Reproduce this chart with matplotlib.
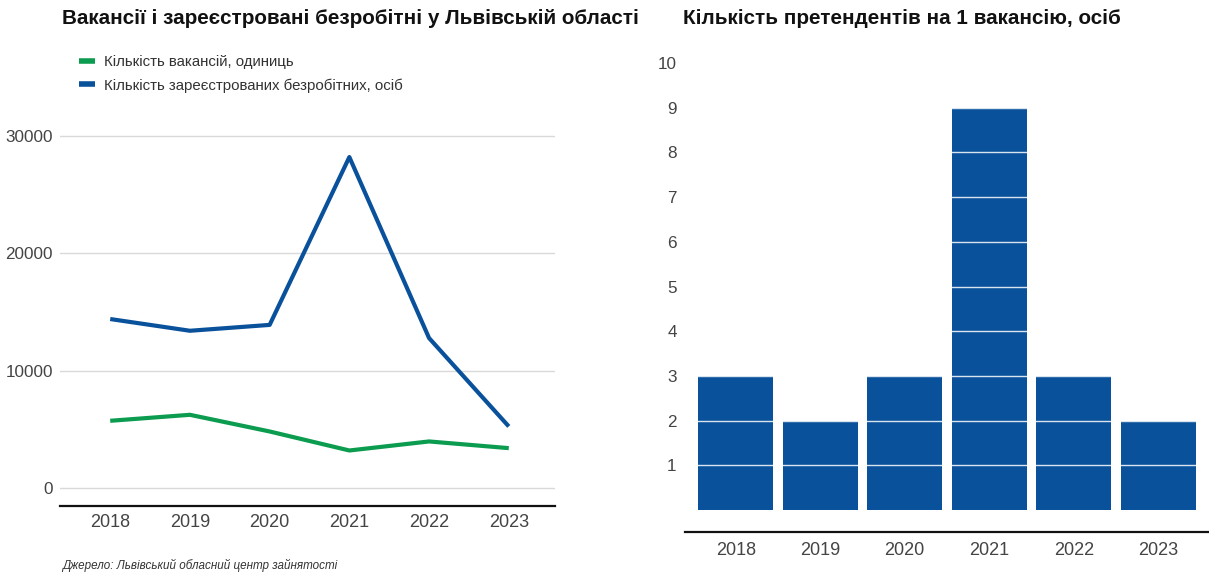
import matplotlib
matplotlib.use("Agg")
import matplotlib.pyplot as plt

plt.rcParams['font.family'] = ['Liberation Sans', 'DejaVu Sans']

years = ['2018', '2019', '2020', '2021', '2022', '2023']
vacancies = [5730, 6240, 4820, 3200, 3970, 3400]
unemployed = [14400, 13400, 13900, 28200, 12780, 5250]
per_vacancy = [3, 2, 3, 9, 3, 2]

green = '#0b9c4f'
blue = '#0a519c'
tick_color = '#444444'

W, H = 1209, 573
fig = plt.figure(figsize=(W / 100, H / 100), dpi=100)


def box(x0, y0, x1, y1):
    # pixel box (top-left origin) -> figure fraction
    return [x0 / W, (H - y1) / H, (x1 - x0) / W, (y1 - y0) / H]


# left: line chart
ax1 = fig.add_axes(box(60, 133, 555, 506))
x = range(len(years))
ax1.plot(x, vacancies, color=green, lw=3, solid_capstyle='butt', label='Кількість вакансій, одиниць')
ax1.plot(x, unemployed, color=blue, lw=3, solid_capstyle='butt', label='Кількість зареєстрованих безробітних, осіб')
ax1.set_xlim(-0.63, 5.58)
ax1.set_ylim(-1530, 30250)
ax1.set_yticks([0, 10000, 20000, 30000])
ax1.set_xticks(list(x))
ax1.set_xticklabels(years)
ax1.grid(axis='y', color='#d9d9d9', lw=1)
ax1.set_axisbelow(True)
for s in ['top', 'right', 'left']:
    ax1.spines[s].set_visible(False)
ax1.spines['bottom'].set_color('#111111')
ax1.spines['bottom'].set_linewidth(1.6)
ax1.tick_params(axis='both', length=0, colors=tick_color)
ax1.tick_params(axis='y', labelsize=12.3, pad=5)
ax1.tick_params(axis='x', labelsize=13, pad=6)

leg = ax1.legend(loc='upper left', bbox_to_anchor=(0.011, 1.245), frameon=False,
                 fontsize=10.8, handlelength=1.05, handletextpad=0.65, labelspacing=0.6,
                 labelcolor='#333333')
for h in leg.get_lines():
    h.set_linewidth(4)

fig.text(62 / W, 1 - 18 / H, 'Вакансії і зареєстровані безробітні у Львівській області',
         fontsize=14.9, fontweight='bold', color='#111111', va='center', ha='left')
fig.text(62 / W, 1 - 565 / H, 'Джерело: Львівський обласний центр зайнятості',
         fontsize=8.4, style='italic', color='#333333', va='center', ha='left')

# right: bar chart
ax2 = fig.add_axes(box(685, 55, 1209, 532))
ax2.bar(range(len(years)), per_vacancy, width=0.887, color=blue, zorder=2)
ax2.set_xlim(-0.6, 5.6)
ax2.set_ylim(-0.49, 10.18)
ax2.set_yticks(range(1, 11))
ax2.set_xticks(range(len(years)))
ax2.set_xticklabels(years)
ax2.grid(axis='y', color='white', lw=1, alpha=0.85, zorder=3)
ax2.set_axisbelow(False)
for s in ['top', 'right', 'left']:
    ax2.spines[s].set_visible(False)
ax2.spines['bottom'].set_color('#111111')
ax2.spines['bottom'].set_linewidth(1.6)
ax2.tick_params(axis='both', length=0, colors=tick_color)
ax2.tick_params(axis='y', labelsize=12.3, pad=6)
ax2.tick_params(axis='x', labelsize=13, pad=7)

fig.text(683 / W, 1 - 18 / H, 'Кількість претендентів на 1 вакансію, осіб',
         fontsize=14.9, fontweight='bold', color='#111111', va='center', ha='left')

fig.savefig('out.png', dpi=100)
